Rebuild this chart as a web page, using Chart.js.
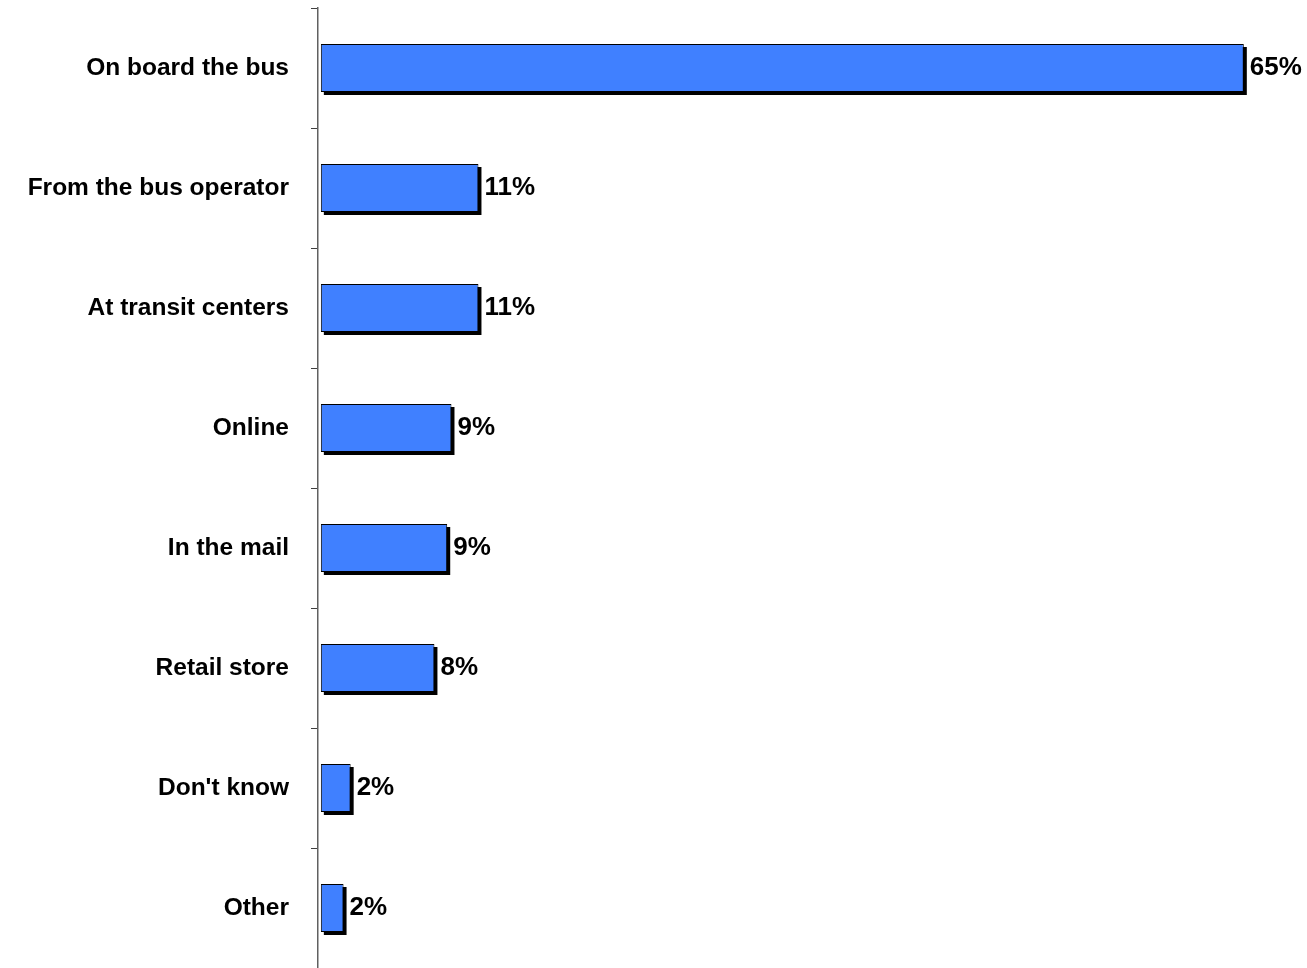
<!DOCTYPE html>
<html>
<head>
<meta charset="utf-8">
<script src="https://cdn.jsdelivr.net/npm/chart.js@4/dist/chart.umd.min.js"></script>
<style>
html,body{margin:0;padding:0;background:#fff;overflow:hidden;}
#wrap{width:1307px;height:968px;position:relative;}
</style>
</head>
<body>
<div id="wrap"><canvas id="c" width="1307" height="968"></canvas></div>
<script>
const categories = ["On board the bus","From the bus operator","At transit centers","Online","In the mail","Retail store","Don't know","Other"];
const values = [65, 11.1, 11.1, 9.2, 8.9, 8.0, 2.1, 1.6];
const valueLabels = ["65%","11%","11%","9%","9%","8%","2%","2%"];

const shadowPlugin = {
  id: 'shadow',
  beforeDatasetsDraw(chart) {
    const ctx = chart.ctx;
    const meta = chart.getDatasetMeta(0);
    ctx.save();
    ctx.fillStyle = '#000';
    meta.data.forEach(bar => {
      const left = bar.base, right = bar.x;
      const top = bar.y - bar.height / 2, h = bar.height;
      ctx.fillRect(left + 3, top + 3, right - left, h);
    });
    ctx.restore();
  },
  afterDatasetsDraw(chart) {
    const ctx = chart.ctx;
    const meta = chart.getDatasetMeta(0);
    ctx.save();
    ctx.fillStyle = '#000';
    ctx.font = 'bold 26px "Liberation Sans", Arial, sans-serif';
    ctx.textAlign = 'left';
    ctx.textBaseline = 'middle';
    meta.data.forEach((bar, i) => {
      ctx.fillText(valueLabels[i], bar.x + 6, bar.y);
    });
    ctx.restore();
  }
};

new Chart(document.getElementById('c'), {
  type: 'bar',
  data: {
    labels: categories,
    datasets: [{
      data: values,
      backgroundColor: '#4080FF',
      borderColor: '#000',
      borderWidth: 1,
      borderSkipped: false,
      barPercentage: 0.4,
      categoryPercentage: 1.0
    }]
  },
  options: {
    indexAxis: 'y',
    responsive: false,
    animation: false,
    layout: { autoPadding: false, padding: { top: 8, bottom: 0, left: 0, right: 0 } },
    plugins: { legend: { display: false }, tooltip: { enabled: false } },
    scales: {
      x: { display: false, min: -0.2, max: 69.45 },
      y: {
        offset: true,
        grid: { display: true, drawOnChartArea: false, offset: true, tickLength: 7, color: '#404040', lineWidth: 1 },
        border: { display: true, color: '#606060', width: 1.5 },
        ticks: { color: '#000', padding: 22, font: { family: '"Liberation Sans", Arial, sans-serif', size: 24.5, weight: 'bold' } },
        afterFit(scale) { scale.width = 318; scale.paddingTop = 0; scale.paddingBottom = 0; }
      }
    }
  },
  plugins: [shadowPlugin]
});
</script>
</body>
</html>
